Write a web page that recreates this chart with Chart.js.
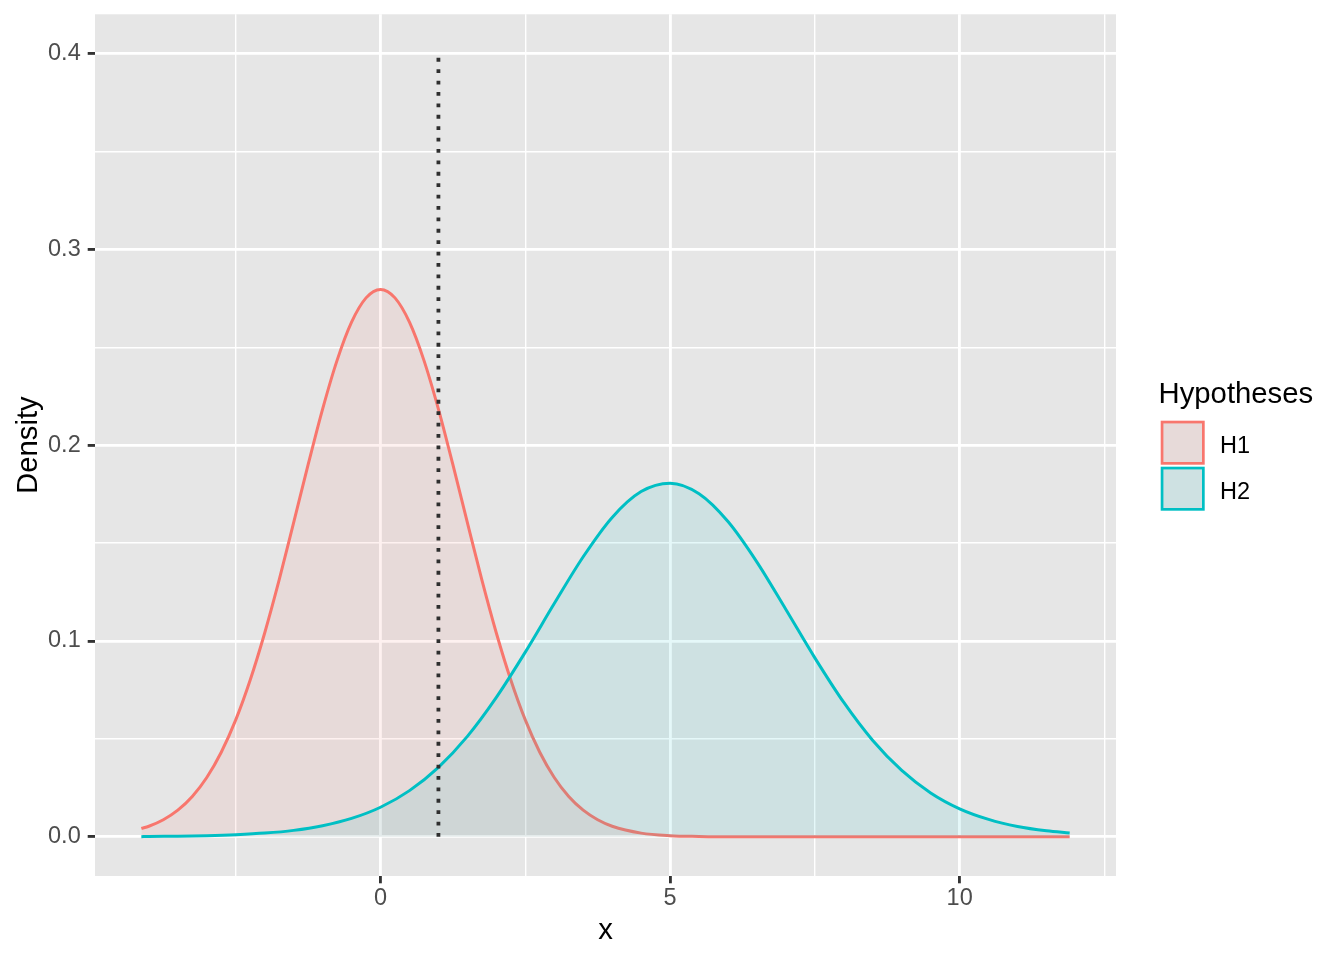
<!DOCTYPE html>
<html>
<head>
<meta charset="utf-8">
<script src="https://cdn.jsdelivr.net/npm/chart.js@4.4.1/dist/chart.umd.min.js"></script>
<style>
  html, body { margin: 0; padding: 0; background: #ffffff; }
  #wrap { width: 1344px; height: 960px; position: relative; }
</style>
</head>
<body>
<div id="wrap"><canvas id="c" width="1344" height="960"></canvas></div>
<script>
// ---------- data ----------
const h1X = [-4.13, -4, -3.75, -3.5, -3.25, -3, -2.75, -2.5, -2.25, -2,
             -1.75, -1.5, -1.25, -1, -0.75, -0.5, -0.25, 0, 0.25, 0.5,
             0.75, 1, 1.25, 1.5, 1.75, 2, 2.25, 2.5, 2.75, 3,
             3.25, 3.5, 3.75, 4, 4.5, 5, 5.5, 6, 7, 8,
             9, 10, 11, 11.9];
const h1Density = [0.0043, 0.0054, 0.0087, 0.0136, 0.0206, 0.0303, 0.0432, 0.0597, 0.0801, 0.1041,
                   0.1312, 0.1604, 0.1900, 0.2184, 0.2433, 0.2628, 0.2752, 0.2795, 0.2752, 0.2628,
                   0.2433, 0.2184, 0.1900, 0.1604, 0.1312, 0.1041, 0.0801, 0.0597, 0.0432, 0.0303,
                   0.0206, 0.0136, 0.0087, 0.0054, 0.0019, 0.0006, 0.0002, 0, 0, 0,
                   0, 0, 0, 0];
const h2X = [-4.13, -4, -3.5, -3, -2.5, -2, -1.5, -1, -0.5, 0,
             0.5, 1, 1.5, 2, 2.5, 3, 3.5, 4, 4.5, 5,
             5.5, 6, 6.5, 7, 7.5, 8, 8.5, 9, 9.5, 10,
             10.5, 11, 11.5, 11.9];
const h2Density = [0.0001, 0.0002, 0.0003, 0.0006, 0.0011, 0.0019, 0.0033, 0.0057, 0.0094, 0.0151,
                   0.0236, 0.0355, 0.0513, 0.0712, 0.0943, 0.1191, 0.1430, 0.1631, 0.1763, 0.1806,
                   0.1752, 0.1610, 0.1403, 0.1161, 0.0914, 0.0686, 0.0492, 0.0339, 0.0224, 0.0143,
                   0.0089, 0.0053, 0.0031, 0.0020];
const seriesLabels = ['H1', 'H2'];
const legendTitle = 'Hypotheses';
const cutoffX = 1;
const cutoffY = [0, 0.4];
const xMajorTicks = [0, 5, 10];
const xMinorTicks = [-2.5, 2.5, 7.5, 12.5];
const xTickLabels = ['0', '5', '10'];
const yMajorTicks = [0, 0.1, 0.2, 0.3, 0.4];
const yMinorTicks = [0.05, 0.15, 0.25, 0.35];
const yTickLabels = ['0.0', '0.1', '0.2', '0.3', '0.4'];
const xTitle = 'x';
const yTitle = 'Density';

// ---------- styles ----------
const FONT = "'Liberation Sans', Arial, Helvetica, sans-serif";
const panelBg = '#E6E6E6';
const colors = ['#F8766D', '#00BFC4'];
const fills = ['rgba(248,118,109,0.1)', 'rgba(0,191,196,0.1)'];
const majorW = 2.85, minorW = 1.42;

function findIdx(arr, v) {
  for (let i = 0; i < arr.length; i++) if (Math.abs(arr[i] - v) < 1e-9) return i;
  return -1;
}

const panelPlugin = {
  id: 'panel',
  beforeDraw(chart) {
    const { ctx, chartArea: a } = chart;
    ctx.save();
    ctx.fillStyle = '#ffffff';
    ctx.fillRect(0, 0, chart.width, chart.height);
    ctx.fillStyle = panelBg;
    ctx.fillRect(a.left, a.top, a.right - a.left, a.bottom - a.top);
    ctx.restore();
  }
};

const legendPlugin = {
  id: 'ggLegend',
  afterDraw(chart) {
    const ctx = chart.ctx;
    const left = 1159.7, top0 = 419.7, key = 46, lw = 2.7;
    ctx.save();
    ctx.fillStyle = '#000000';
    ctx.textAlign = 'left';
    ctx.textBaseline = 'alphabetic';
    ctx.font = '29.3px ' + FONT;
    ctx.fillText(legendTitle, 1158.5, 403.3);
    seriesLabels.forEach((lab, i) => {
      const top = top0 + i * key;
      const inset = 1 + lw / 2;
      const x = left + inset, y = top + inset, s = key - 2 * inset;
      ctx.fillStyle = panelBg;
      ctx.fillRect(x, y, s, s);
      ctx.fillStyle = fills[i];
      ctx.fillRect(x, y, s, s);
      ctx.strokeStyle = colors[i];
      ctx.lineWidth = lw;
      ctx.strokeRect(x, y, s, s);
      ctx.fillStyle = '#000000';
      ctx.font = '23.5px ' + FONT;
      ctx.fillText(lab, 1220, top + 32.8);
    });
    ctx.restore();
  }
};

const allX = xMinorTicks.concat(xMajorTicks).sort((a, b) => a - b);
const allY = yMinorTicks.concat(yMajorTicks).sort((a, b) => a - b);

new Chart(document.getElementById('c'), {
  type: 'line',
  data: {
    datasets: [
      {
        label: seriesLabels[0],
        data: h1X.map((x, i) => ({ x: x, y: h1Density[i] })),
        borderColor: colors[0], backgroundColor: fills[0],
        fill: 'origin', borderWidth: 3, pointRadius: 0,
        cubicInterpolationMode: 'monotone', order: 2
      },
      {
        label: seriesLabels[1],
        data: h2X.map((x, i) => ({ x: x, y: h2Density[i] })),
        borderColor: colors[1], backgroundColor: fills[1],
        fill: 'origin', borderWidth: 3, pointRadius: 0,
        cubicInterpolationMode: 'monotone', order: 1
      },
      {
        label: 'cutoff',
        data: [{ x: cutoffX, y: cutoffY[0] }, { x: cutoffX, y: cutoffY[1] }],
        borderColor: '#2E2E2E', borderWidth: 3.8, borderDash: [3.8, 7.6],
        pointRadius: 0, fill: false, order: 0
      }
    ]
  },
  options: {
    responsive: false,
    animation: false,
    events: [],
    layout: { padding: { top: 14.3, right: 228, left: 0, bottom: 0 } },
    plugins: { legend: { display: false }, tooltip: { enabled: false } },
    scales: {
      x: {
        type: 'linear', min: -4.93, max: 12.70,
        afterBuildTicks: s => { s.ticks = allX.map(v => ({ value: v })); },
        afterFit: s => { s.height = 84; s.paddingLeft = 0; s.paddingRight = 0; },
        border: { display: false },
        grid: {
          color: '#FFFFFF',
          lineWidth: c => (c.tick && findIdx(xMajorTicks, c.tick.value) >= 0) ? majorW : minorW,
          drawTicks: true, tickLength: 7.3, tickWidth: 2.85,
          tickColor: c => (c.tick && findIdx(xMajorTicks, c.tick.value) >= 0) ? '#333333' : 'rgba(0,0,0,0)'
        },
        ticks: {
          autoSkip: false, maxRotation: 0, padding: 1, color: '#4D4D4D',
          font: { family: FONT, size: 23.5 },
          callback: v => { const i = findIdx(xMajorTicks, v); return i >= 0 ? xTickLabels[i] : ''; }
        },
        title: { display: true, text: xTitle, color: '#000000', font: { family: FONT, size: 29.3 }, padding: { top: 0, bottom: 11.5 } }
      },
      y: {
        type: 'linear', min: -0.02, max: 0.42,
        afterBuildTicks: s => { s.ticks = allY.map(v => ({ value: v })); },
        afterFit: s => { s.width = 95; s.paddingTop = 0; s.paddingBottom = 0; },
        border: { display: false },
        grid: {
          color: '#FFFFFF',
          lineWidth: c => (c.tick && findIdx(yMajorTicks, c.tick.value) >= 0) ? majorW : minorW,
          drawTicks: true, tickLength: 7.3, tickWidth: 2.85,
          tickColor: c => (c.tick && findIdx(yMajorTicks, c.tick.value) >= 0) ? '#333333' : 'rgba(0,0,0,0)'
        },
        ticks: {
          autoSkip: false, padding: 7, color: '#4D4D4D',
          font: { family: FONT, size: 23.5 },
          callback: v => { const i = findIdx(yMajorTicks, v); return i >= 0 ? yTickLabels[i] : ''; }
        },
        title: { display: true, text: yTitle, color: '#000000', font: { family: FONT, size: 29.3 }, padding: { top: 11, bottom: 0 } }
      }
    }
  },
  plugins: [panelPlugin, legendPlugin]
});
</script>
</body>
</html>
